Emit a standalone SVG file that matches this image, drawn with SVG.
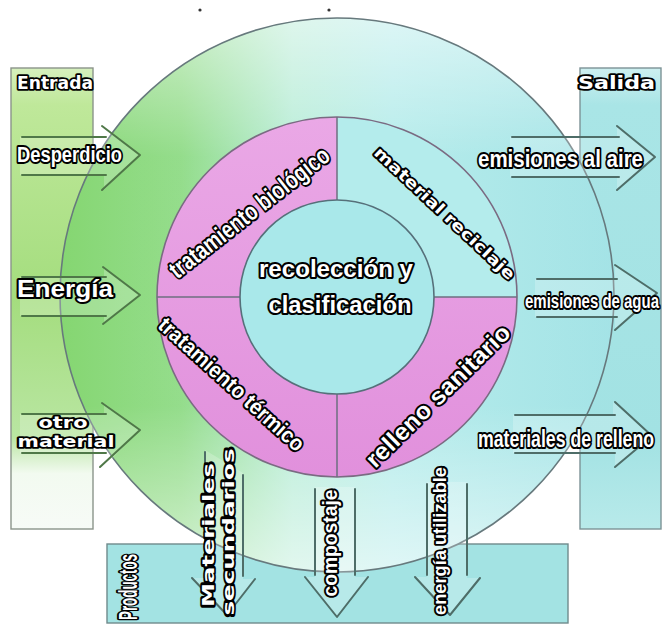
<svg xmlns="http://www.w3.org/2000/svg" width="662" height="627" viewBox="0 0 662 627">
  <defs>
    <linearGradient id="gOuter" x1="0" y1="0" x2="1" y2="0">
      <stop offset="0" stop-color="#7fd46a"/>
      <stop offset="0.22" stop-color="#8fdb86"/>
      <stop offset="0.42" stop-color="#b6ecd6"/>
      <stop offset="0.6" stop-color="#b2ebea"/>
      <stop offset="1" stop-color="#9fe2e5"/>
    </linearGradient>
    <linearGradient id="gHaze" x1="0" y1="0" x2="0" y2="1">
      <stop offset="0" stop-color="#ffffff" stop-opacity="0.55"/>
      <stop offset="0.25" stop-color="#ffffff" stop-opacity="0.05"/>
      <stop offset="0.7" stop-color="#ffffff" stop-opacity="0.05"/>
      <stop offset="1" stop-color="#ffffff" stop-opacity="0.6"/>
    </linearGradient>
    <linearGradient id="gIn" x1="0" y1="0" x2="0" y2="1">
      <stop offset="0" stop-color="#d6f0bd"/>
      <stop offset="0.08" stop-color="#bfe89a"/>
      <stop offset="0.5" stop-color="#a4dd7e"/>
      <stop offset="0.8" stop-color="#b9e6a2"/>
      <stop offset="0.88" stop-color="#f2faf0"/>
      <stop offset="1" stop-color="#f7fbf7"/>
    </linearGradient>
    <linearGradient id="gOut" x1="0" y1="0" x2="0" y2="1">
      <stop offset="0" stop-color="#cdeff0"/>
      <stop offset="0.08" stop-color="#a9e5e6"/>
      <stop offset="0.8" stop-color="#a2e2e3"/>
      <stop offset="1" stop-color="#b8eaea"/>
    </linearGradient>
    <linearGradient id="gPink" x1="0" y1="0" x2="0" y2="1">
      <stop offset="0" stop-color="#eaa8e6"/>
      <stop offset="1" stop-color="#e190dc"/>
    </linearGradient>
  </defs>
  <style>
    .edge { fill: none; stroke: #67797d; stroke-width: 1.6; }
    .arr { fill: none; stroke: #4e6d68; stroke-width: 2; stroke-linecap: round; stroke-linejoin: round; }
    .arrG { fill: none; stroke: #4f7848; stroke-width: 2; stroke-linecap: round; stroke-linejoin: round; }
    .body { fill: #ffffff; fill-opacity: 0.22; stroke: none; }
    .lbl { font-family: "Liberation Sans", Arial, sans-serif; font-weight: bold; fill: #ffffff; stroke: #000000; stroke-width: 4; stroke-linejoin: round; paint-order: stroke; }
    .wide { font-family: "DejaVu Sans", "Liberation Sans", sans-serif; font-weight: bold; fill: #ffffff; stroke: #000000; stroke-width: 3.6; stroke-linejoin: round; paint-order: stroke; }
  </style>

  <rect width="662" height="627" fill="#ffffff"/>
  <circle cx="200" cy="10" r="1.6" fill="#333"/>
  <circle cx="329" cy="10" r="1.6" fill="#333"/>

  <!-- side and bottom panels -->
  <g id="entrada">
    <rect x="11" y="68" width="82" height="461" fill="url(#gIn)" stroke="#8b948a" stroke-width="1.4"/>
  </g>
  <g id="salida">
    <rect x="580" y="68" width="81" height="461" fill="url(#gOut)" stroke="#7d9396" stroke-width="1.4"/>
  </g>
  <g id="productos">
    <rect x="107" y="544" width="461" height="79" fill="#a3e3e3" stroke="#6f8a8c" stroke-width="1.4"/>
  </g>

  <!-- outer ring -->
  <g id="outer-ring">
    <circle cx="337" cy="295" r="277" fill="url(#gOuter)"/>
    <circle cx="337" cy="295" r="277" fill="url(#gHaze)"/>
    <circle cx="337" cy="295" r="277" class="edge"/>
  </g>

  <!-- treatment ring, four sectors -->
  <g id="ring">
    <circle cx="337" cy="297" r="180" fill="url(#gPink)"/>
    <path d="M337,117 A180,180 0 0 1 517,297 L434,297 A97,97 0 0 0 337,200 Z" fill="#b4ecec"/>
    <circle cx="337" cy="297" r="180" fill="none" stroke="#7a6b82" stroke-width="1.6"/>
    <path d="M337,117 V200 M337,394 V477 M157,297 H240 M434,297 H517" fill="none" stroke="#6d6f80" stroke-width="1.5"/>
  </g>
  <g id="sector-biologico">
    <text class="lbl" font-size="25" text-anchor="middle" textLength="196" lengthAdjust="spacingAndGlyphs" transform="translate(249,212) rotate(-38)" y="9">tratamiento biológico</text>
  </g>
  <g id="sector-reciclaje">
    <text class="wide" font-size="16" text-anchor="middle" textLength="186" lengthAdjust="spacingAndGlyphs" transform="translate(445,213) rotate(43)" y="6">material reciclaje</text>
  </g>
  <g id="sector-termico">
    <text class="lbl" font-size="22" text-anchor="middle" textLength="188" lengthAdjust="spacingAndGlyphs" transform="translate(232,384) rotate(42)" y="8">tratamiento térmico</text>
  </g>
  <g id="sector-relleno">
    <text class="lbl" font-size="24" text-anchor="middle" textLength="192" lengthAdjust="spacingAndGlyphs" transform="translate(438,396) rotate(-44.5)" y="8">relleno sanitario</text>
  </g>

  <!-- centre -->
  <g id="recoleccion">
    <circle cx="337" cy="297" r="97" fill="#a9e8ea" stroke="#56707a" stroke-width="1.6"/>
    <text class="lbl" font-size="23" text-anchor="middle" x="336" y="277" textLength="154" lengthAdjust="spacingAndGlyphs">recolección y</text>
    <text class="lbl" font-size="23" text-anchor="middle" x="340" y="313" textLength="143" lengthAdjust="spacingAndGlyphs">clasificación</text>
  </g>

  <!-- flow arrows -->
  <g id="connectors">
    <!-- inputs -->
    <path class="body" d="M20,137 H104 V126 L140,155 L104,190 V175 H20 Z"/>
    <path class="arrG" d="M22,137 H106 M102,126 L140,155 L102,190 M106,175 H22"/>
    <path class="body" d="M20,277 H104 V267 L140,295 L104,324 V316 H20 Z"/>
    <path class="arrG" d="M22,277 H106 M103,267 L140,295 L103,324 M106,316 H22"/>
    <path class="body" d="M20,414 H104 V403 L140,430 L104,467 V453 H20 Z"/>
    <path class="arrG" d="M22,414 H106 M102,403 L140,430 L100,467 M106,453 H22"/>
    <!-- outputs -->
    <path class="body" d="M510,137 H617 V126 L655,157 L617,190 V177 H510 Z"/>
    <path class="arr" d="M512,137 H619 M617,126 L655,157 L617,190 M619,177 H512"/>
    <path class="body" d="M535,279 H615 V265 L657,293 L615,330 V317 H535 Z"/>
    <path class="arr" d="M537,279 H617 M615,265 L657,293 L615,330 M617,317 H537"/>
    <path class="body" d="M513,415 H613 V402 L652,436 L615,467 V453 H513 Z"/>
    <path class="arr" d="M515,415 H615 M615,402 L652,436 L615,467 M615,453 H515"/>
    <!-- products -->
    <path class="body" d="M205,450 V578 H192 L227,615 L255,579 H243 V473 Z"/>
    <path class="arr" d="M205,452 V576 M192,578 L227,615 L255,579 M243,475 V576"/>
    <path class="body" d="M315,487 V577 H305 L337,617 L368,577 H355 V487 Z"/>
    <path class="arr" d="M315,489 V575 M305,577 L337,617 L368,577 M355,489 V575"/>
    <path class="body" d="M427,482 V577 H415 L450,615 L480,578 H467 V482 Z"/>
    <path class="arr" d="M427,484 V575 M415,577 L450,615 L480,578 M467,484 V575"/>
  </g>

  <!-- panel and arrow labels -->
  <g id="labels-in">
    <text class="wide" font-size="17" x="17" y="89" textLength="76" lengthAdjust="spacingAndGlyphs">Entrada</text>
    <text class="lbl" font-size="22" x="17" y="162" textLength="105" lengthAdjust="spacingAndGlyphs">Desperdicio</text>
    <text class="lbl" font-size="24" x="17" y="297" textLength="96" lengthAdjust="spacingAndGlyphs">Energía</text>
    <text class="wide" font-size="15" text-anchor="middle" x="63" y="428" textLength="49" lengthAdjust="spacingAndGlyphs">otro</text>
    <text class="wide" font-size="15" text-anchor="middle" x="66" y="447" textLength="97" lengthAdjust="spacingAndGlyphs">material</text>
  </g>
  <g id="labels-out">
    <text class="wide" font-size="17" x="578" y="89" textLength="77" lengthAdjust="spacingAndGlyphs">Salida</text>
    <text class="lbl" font-size="23" x="478" y="167" textLength="165" lengthAdjust="spacingAndGlyphs">emisiones al aire</text>
    <text class="lbl" font-size="20" x="525" y="308" textLength="134" lengthAdjust="spacingAndGlyphs">emisiones de agua</text>
    <text class="lbl" font-size="23" x="478" y="447" textLength="176" lengthAdjust="spacingAndGlyphs">materiales de relleno</text>
  </g>
  <g id="labels-products">
    <text class="lbl" font-size="26" text-anchor="middle" textLength="66" lengthAdjust="spacingAndGlyphs" transform="translate(137,587) rotate(-90)">Productos</text>
    <text class="wide" font-size="15" text-anchor="middle" textLength="144" lengthAdjust="spacingAndGlyphs" transform="translate(214,535) rotate(-90)">Materiales</text>
    <text class="wide" font-size="15" text-anchor="middle" textLength="167" lengthAdjust="spacingAndGlyphs" transform="translate(234,532) rotate(-90)">secundarios</text>
    <text class="lbl" font-size="20" text-anchor="middle" textLength="107" lengthAdjust="spacingAndGlyphs" transform="translate(337,543) rotate(-90)">compostaje</text>
    <text class="lbl" font-size="19" text-anchor="middle" textLength="148" lengthAdjust="spacingAndGlyphs" transform="translate(446,541) rotate(-90)">energía utilizable</text>
  </g>
</svg>
